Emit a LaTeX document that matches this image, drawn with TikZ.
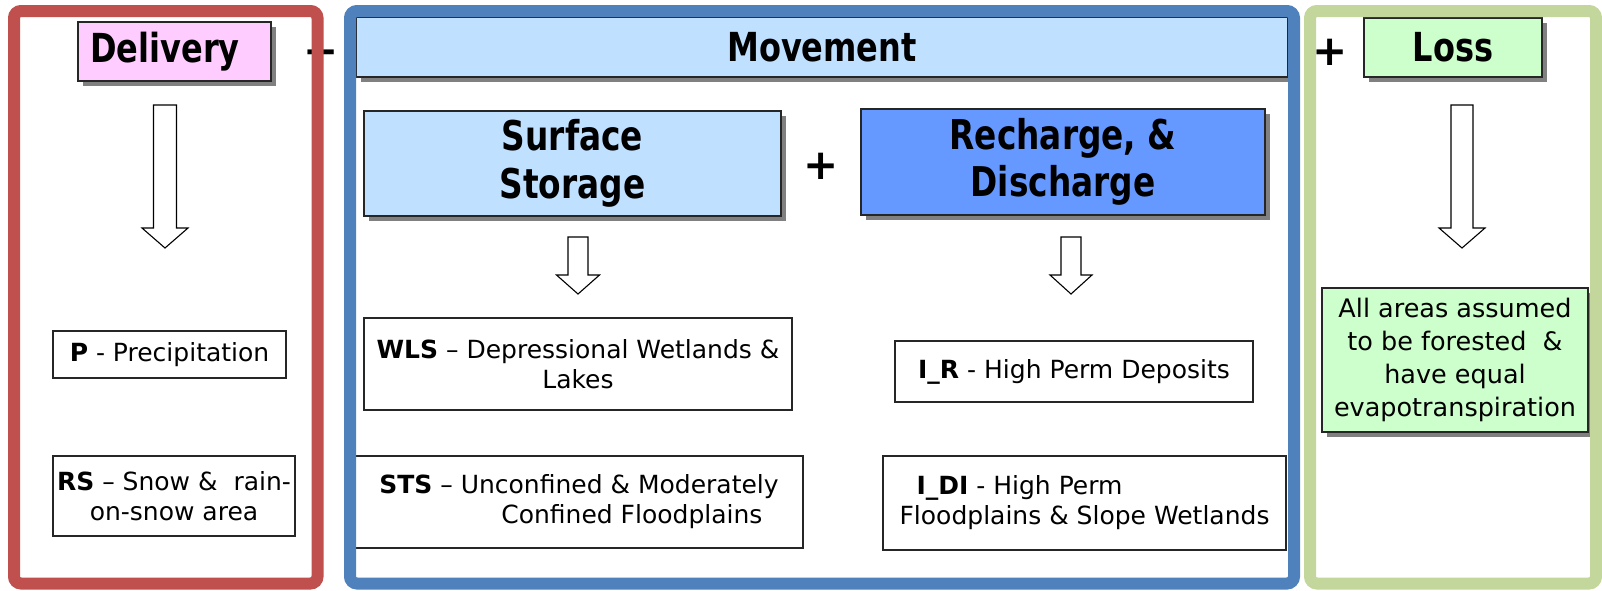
\documentclass[tikz,border=0pt]{standalone}
\usepackage{fontspec}
\setmainfont{DejaVu Sans}
\newfontfamily\headfont[FakeStretch=0.8]{DejaVu Sans}
\usetikzlibrary{shadows}

\definecolor{redframe}{HTML}{C0504D}
\definecolor{blueframe}{HTML}{4F81BD}
\definecolor{greenframe}{HTML}{C3D69B}
\definecolor{pinkfill}{HTML}{FFCCFF}
\definecolor{paleblue}{HTML}{C0E0FF}
\definecolor{midblue}{HTML}{6699FF}
\definecolor{palegreen}{HTML}{CCFFCC}
\definecolor{shadowgray}{HTML}{808080}

\tikzset{
  titlebox/.style={draw=black!85, line width=1.5pt, inner sep=0pt, align=center,
    drop shadow={shadow xshift=5pt, shadow yshift=-5pt, fill=shadowgray, opacity=1},
    font=\headfont\bfseries\fontsize{40}{48}\selectfont},
  itembox/.style={draw=black!85, line width=1.2pt, fill=white, inner sep=0pt,
    align=center, font=\fontsize{25}{30}\selectfont},
  notebox/.style={itembox, fill=palegreen, line width=1.5pt,
    drop shadow={shadow xshift=5pt, shadow yshift=-5pt, fill=shadowgray, opacity=1},
    font=\fontsize{25.5}{33}\selectfont},
  frame/.style={line width=12pt, rounded corners=7pt},
  plussign/.style={inner sep=0pt, font=\bfseries\fontsize{42}{42}\selectfont},
  pics/blockdown/.style n args={4}{code={
    \draw[line width=1.1pt, fill=white, line join=miter]
      (-#3,0) -- (-#3,#1) -- (-#4,#1) -- (0,#2) -- (#4,#1) -- (#3,#1) -- (#3,0) -- cycle;
  }}
}

\begin{document}
\begin{tikzpicture}[x=1pt, y=-1pt]
\useasboundingbox (0,0) rectangle (1602,590);
\fill[white] (0,0) rectangle (1602,590);

% ---- Delivery column ----
\node[titlebox, fill=pinkfill, minimum width=193pt, minimum height=59pt]
  (delivery) at (174.5,51.5) {Delivery\hspace*{19pt}};
\pic at (165,105) {blockdown={123}{143}{11.5}{23}};
\node[itembox, minimum width=233pt, minimum height=47pt]
  (precip) at (169.5,354.5) {\textbf{P} - Precipitation};
\node[itembox, minimum width=242pt, minimum height=80pt]
  (snow) at (174,496) {\textbf{RS} – Snow \&\ \ rain-\\on-snow area};

% ---- Movement column ----
\node[titlebox, fill=paleblue, minimum width=932pt, minimum height=60pt]
  (movement) at (822,47) {Movement};
\node[titlebox, fill=paleblue, minimum width=417pt, minimum height=105pt,
  font=\headfont\bfseries\fontsize{41}{48}\selectfont]
  (surface) at (572.5,163.5) {Surface\\Storage};
\node[titlebox, fill=midblue, minimum width=404pt, minimum height=106pt,
  font=\headfont\bfseries\fontsize{41}{47}\selectfont]
  (recharge) at (1063,162) {Recharge, \&\\Discharge};
\pic at (578,237) {blockdown={38}{57}{10}{21.5}};
\pic at (1071,237) {blockdown={38}{57}{10}{21}};
\node[itembox, minimum width=428pt, minimum height=92pt]
  (wls) at (578,364) {\textbf{WLS} – Depressional Wetlands \&\\Lakes};
\node[itembox, minimum width=448pt, minimum height=92pt, align=left]
  (sts) at (579,502) {\textbf{STS} – Unconfined \& Moderately\\\hspace*{122pt}Confined Floodplains\hspace*{16pt}};
\node[itembox, minimum width=358pt, minimum height=61pt]
  (ir) at (1074,371.5) {\textbf{I\_R} - High Perm Deposits};
\node[itembox, minimum width=403pt, minimum height=94pt, align=left]
  (idi) at (1084.5,503) {\hspace*{17pt}\textbf{I\_DI} - High Perm\\Floodplains \& Slope Wetlands};

% ---- Loss column ----
\node[titlebox, fill=palegreen, minimum width=178pt, minimum height=59pt]
  (loss) at (1453,47.5) {Loss};
\pic at (1462,105) {blockdown={123}{143}{11}{23}};
\node[notebox, minimum width=266pt, minimum height=144pt]
  (evapo) at (1455,360) {All areas assumed\\to be forested\ \ \&\\have equal\\evapotranspiration};

% ---- operators between the terms ----
\node[plussign] (plusA) at (321,52) {+};
\node[plussign] (plusB) at (821,166) {+};
\node[plussign] (plusC) at (1330,52) {+};

% ---- column frames ----
\draw[frame, draw=redframe] (14,11) rectangle (317.5,583.5);
\draw[frame, draw=blueframe] (350,11) rectangle (1294,583.5);
\draw[frame, draw=greenframe] (1310,11) rectangle (1596,583.5);
\end{tikzpicture}
\end{document}
